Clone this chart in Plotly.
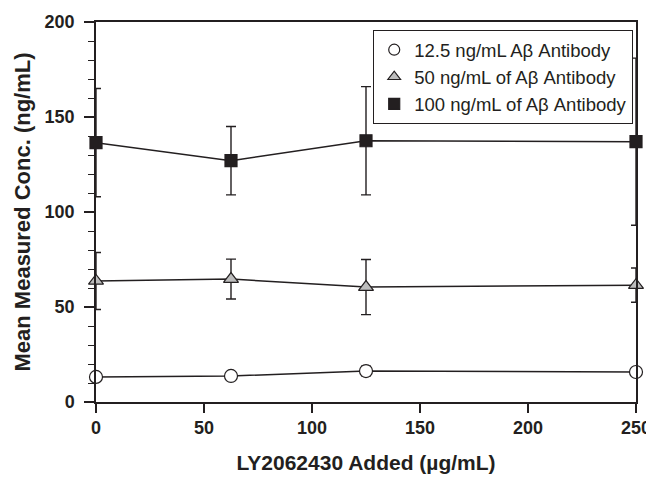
import plotly.graph_objects as go

x_added = [0, 62.5, 125, 250]

names = ["12.5 ng/mL A\u03b2 Antibody", "50 ng/mL of A\u03b2 Antibody", "100 ng/mL of A\u03b2 Antibody"]
mean_12 = [13.2, 13.7, 16.3, 15.8]
err_12 = [1.0, 1.0, 2.5, 1.0]
mean_50 = [63.7, 64.7, 60.5, 61.5]
err_50 = [15.0, 10.5, 14.5, 9.0]
mean_100 = [136.5, 127.0, 137.5, 137.0]
err_100 = [28.5, 18.0, 28.5, 44.0]

x_ticks = [0, 50, 100, 150, 200, 250]
y_ticks = [0, 50, 100, 150, 200]

series = [
    (names[0], mean_12, err_12, "circle", "white", 13),
    (names[1], mean_50, err_50, "triangle-up", "#bdbdbd", 13),
    (names[2], mean_100, err_100, "square", "#231f20", 12),
]

INK = "#231f20"
fig = go.Figure()
for name, y, e, sym, col, sz in series:
    fig.add_trace(go.Scatter(
        x=x_added, y=y, name=name, mode="lines+markers", showlegend=False,
        line=dict(color=INK, width=1.5),
        marker=dict(symbol=sym, size=sz, color=col, line=dict(color=INK, width=1.2)),
        error_y=dict(type="data", array=e, visible=True, color=INK, thickness=1.4, width=5),
        cliponaxis=False,
    ))
for name, y, e, sym, col, sz in series:
    fig.add_trace(go.Scatter(
        x=[None], y=[None], name=name, mode="markers", showlegend=True,
        marker=dict(symbol=sym, size=11, color=col, line=dict(color=INK, width=1.2)),
    ))

font_family = "Liberation Sans, Arial, sans-serif"
fig.update_layout(
    width=654, height=479,
    margin=dict(l=88, r=26, t=14, b=85, autoexpand=False),
    plot_bgcolor="white", paper_bgcolor="white",
    font=dict(family=font_family, color=INK),
    showlegend=True,
    legend=dict(
        x=0.513, y=0.979, xanchor="left", yanchor="top",
        bgcolor="white", bordercolor=INK, borderwidth=1.2,
        font=dict(size=18.5, family=font_family, color=INK),
        tracegroupgap=0, itemwidth=30,
    ),
    xaxis=dict(
        range=[0, 250], tickvals=x_ticks, ticktext=["<b>%d</b>" % v for v in x_ticks],
        ticks="outside", ticklen=9, tickwidth=1.5, tickcolor=INK,
        showline=True, linecolor=INK, linewidth=1.5, mirror=True,
        showgrid=False, zeroline=False, automargin=False,
        tickfont=dict(size=18, family=font_family, color=INK),
        title=dict(text="<b>LY2062430 Added (\u00b5g/mL)</b>", font=dict(size=21, color=INK), standoff=18),
    ),
    yaxis=dict(
        range=[0, 200], tickvals=y_ticks, ticktext=["<b>%d</b>" % v for v in y_ticks],
        ticks="outside", ticklen=10, tickwidth=1.5, tickcolor=INK,
        ticklabelstandoff=6,
        minor=dict(dtick=10, ticks="outside", ticklen=6, tickwidth=1.2, tickcolor=INK, showgrid=False),
        showline=True, linecolor=INK, linewidth=1.5, mirror=True,
        showgrid=False, zeroline=False, automargin=False,
        tickfont=dict(size=18, family=font_family, color=INK),
        title=dict(text="<b>Mean Measured Conc. (ng/mL)</b>", font=dict(size=22, color=INK), standoff=8),
    ),
)

fig.write_html("out.html")
